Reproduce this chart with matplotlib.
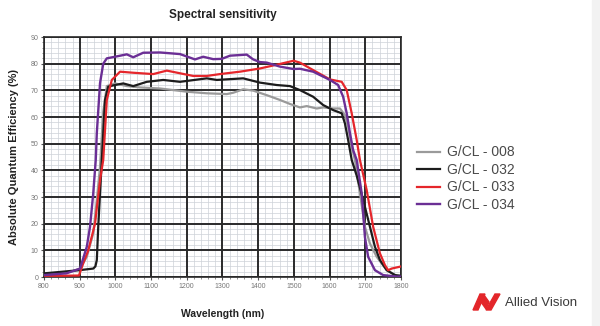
import matplotlib.pyplot as plt
import matplotlib.patches as mpatches
from matplotlib.ticker import MultipleLocator

plt.rcParams['font.family'] = ['Liberation Sans', 'DejaVu Sans']

# G/CL - 008 (grey)
wl_008 = [800, 850, 880, 901, 920, 938, 948, 957, 966, 976, 999, 1032, 1069, 1125, 1162, 1200,
          1256, 1312, 1330, 1358, 1386, 1424, 1461, 1489, 1517, 1536, 1564, 1582, 1610, 1629,
          1643, 1652, 1662, 1671, 1685, 1699, 1713, 1732, 1760, 1788, 1800]
qe_008 = [1.0, 1.6, 2.2, 3.2, 7.6, 16.4, 28.9, 41.4, 62.0, 71.6, 72.6, 71.6, 71.1, 70.7, 70.1, 69.5,
          68.9, 68.6, 69.1, 70.4, 69.9, 68.2, 66.4, 64.9, 63.6, 64.1, 63.2, 63.6, 63.2, 63.2,
          60.7, 56.4, 48.9, 43.9, 31.4, 18.9, 12.6, 7.6, 2.6, 0.5, 0.4]

# G/CL - 032 (black)
wl_032 = [800, 850, 900, 938, 944, 948, 952, 957, 962, 971, 980, 999, 1022, 1050, 1088, 1134,
          1181, 1256, 1284, 1358, 1405, 1452, 1489, 1517, 1554, 1582, 1610, 1634, 1643, 1652,
          1662, 1676, 1694, 1713, 1727, 1741, 1760, 1783, 1800]
qe_032 = [1.4, 2.0, 2.6, 3.2, 4.0, 6.4, 18.9, 31.4, 43.9, 66.4, 71.4, 72.0, 72.6, 71.6, 73.2, 73.9,
          73.2, 74.5, 73.9, 74.5, 72.9, 72.0, 71.6, 70.1, 67.6, 64.5, 62.6, 61.4, 57.6, 51.4,
          43.9, 38.0, 29.0, 18.9, 11.4, 6.4, 2.6, 0.75, 0.5]

# G/CL - 033 (red)
wl_033 = [800, 850, 898, 903, 910, 924, 943, 957, 966, 976, 990, 1013, 1050, 1106, 1144, 1181,
          1218, 1256, 1293, 1349, 1405, 1461, 1499, 1517, 1554, 1601, 1634, 1648, 1662, 1676,
          1685, 1704, 1722, 1741, 1755, 1764, 1774, 1797, 1800]
qe_033 = [0.5, 0.5, 0.6, 2.5, 5.2, 10.0, 20.0, 36.4, 43.9, 66.4, 73.9, 77.0, 76.6, 76.1, 77.4, 76.4,
          75.4, 75.4, 76.1, 77.0, 78.2, 79.9, 81.1, 80.4, 77.6, 74.1, 73.2, 70.1, 61.4, 51.4,
          43.9, 32.6, 18.9, 8.9, 4.5, 2.6, 3.2, 3.9, 4.0]

# G/CL - 034 (purple)
wl_034 = [800, 863, 901, 920, 929, 938, 945, 948, 957, 966, 976, 999, 1032, 1050, 1078, 1125,
          1181, 1223, 1246, 1274, 1298, 1321, 1368, 1386, 1405, 1424, 1461, 1499, 1517, 1554,
          1601, 1624, 1638, 1648, 1657, 1666, 1676, 1690, 1699, 1708, 1727, 1750, 1788, 1800]
qe_034 = [0.75, 1.4, 3.2, 11.4, 18.9, 31.4, 43.9, 54.0, 72.7, 80.0, 82.0, 82.6, 83.5, 82.4, 84.1, 84.2,
          83.6, 81.6, 82.6, 81.7, 81.8, 83.0, 83.4, 81.6, 80.6, 80.4, 78.9, 78.0, 78.1, 77.0,
          73.9, 72.0, 67.6, 61.4, 54.0, 47.6, 43.9, 31.4, 15.0, 7.6, 2.6, 0.75, 0.2, 0.2]

labels = ['G/CL - 008', 'G/CL - 032', 'G/CL - 033', 'G/CL - 034']
colors = ['#9a9a9a', '#1c1c1c', '#e5262b', '#6b2f95']
widths = [1.6, 1.6, 1.6, 1.7]

fig = plt.figure(figsize=(6.0, 3.26), dpi=100)
ax = fig.add_axes([0.0733, 0.150, 0.5950, 0.7365])

series = [(wl_008, qe_008), (wl_032, qe_032), (wl_033, qe_033), (wl_034, qe_034)]
for (x, y), lab, c, w in zip(series, labels, colors, widths):
    ax.plot(x, y, color=c, lw=w, label=lab, zorder=3)

ax.set_xlim(800, 1800)
ax.set_ylim(0, 90)
ax.xaxis.set_major_locator(MultipleLocator(100))
ax.xaxis.set_minor_locator(MultipleLocator(20))
ax.yaxis.set_major_locator(MultipleLocator(10))
ax.yaxis.set_minor_locator(MultipleLocator(2))
# light minor grid from the axes, solid major grid drawn on top of it
ax.grid(which='minor', color='#cdd2d8', lw=0.5, zorder=0)
ax.set_axisbelow(True)
for v in ax.get_xticks():
    ax.axvline(v, color='#2a2a2a', lw=1.4, zorder=1)
for v in ax.get_yticks():
    ax.axhline(v, color='#2a2a2a', lw=1.4, zorder=1)
for s in ax.spines.values():
    s.set_color('#2a2a2a')
    s.set_linewidth(1.2)
ax.tick_params(which='major', labelsize=5, labelcolor='#777777', length=2, color='#555555', pad=2)
ax.tick_params(which='minor', length=1.5, color='#777777')

ax.set_title('Spectral sensitivity', fontsize=8.5, fontweight='bold', color='#222222', pad=14)
ax.set_xlabel('Wavelength (nm)', fontsize=7.5, fontweight='bold', color='#222222', labelpad=14)
ax.set_ylabel('Absolute Quantum Efficiency (%)', fontsize=8, fontweight='bold', color='#222222', labelpad=8)

leg = fig.legend(loc='center left', bbox_to_anchor=(0.695, 0.452), frameon=False, fontsize=10,
                 handlelength=1.65, handletextpad=0.5, labelspacing=0.25, borderpad=0, borderaxespad=0)
for t in leg.get_texts():
    t.set_color('#4a4a4a')

# light band at right edge
fig.patches.append(mpatches.Rectangle((592 / 600, 0), 8 / 600, 1, transform=fig.transFigure,
                                      color='#f2f2f2', zorder=0))

# Allied Vision logo
def px(xp, yp):
    return (xp / 600, 1 - yp / 326)

logo_red = '#e3262a'
shapes = [
    [(473, 310), (478, 310), (485, 294), (480, 294)],
    [(481, 302), (484, 295), (489, 302), (486, 309)],
    [(486, 310), (491, 310), (500, 294), (495, 294)],
]
for pts in shapes:
    fig.patches.append(mpatches.Polygon([px(a, b) for a, b in pts], closed=True,
                                        transform=fig.transFigure, color=logo_red))
fig.text(505 / 600, 1 - 303 / 326, 'Allied Vision', fontsize=9.5, color='#3a3a3a', va='center', ha='left')

fig.savefig('out.png', dpi=100)
